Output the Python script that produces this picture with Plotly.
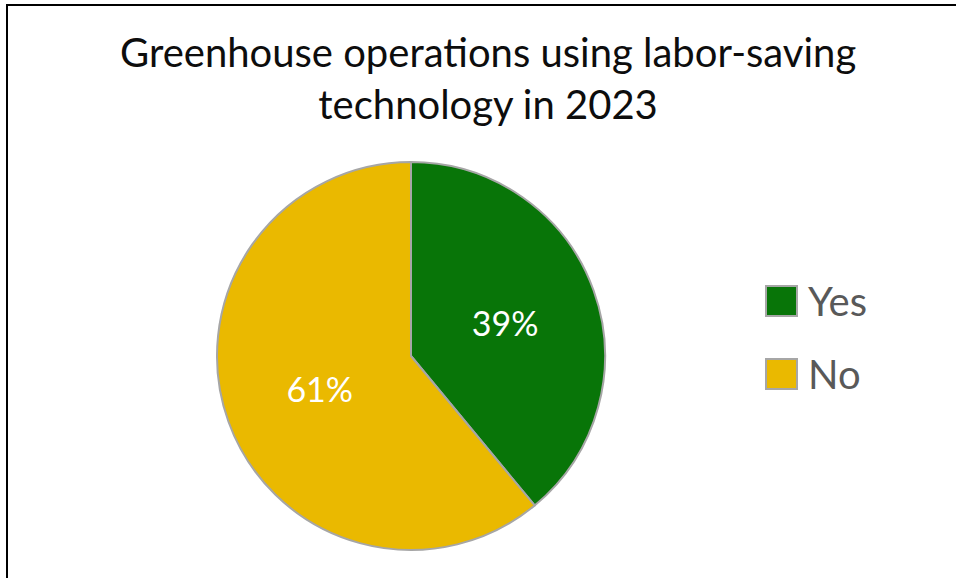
import plotly.graph_objects as go

# Survey shares of greenhouse operations
categories = ["Yes", "No"]
shares = [39, 61]
colors = ["#087508", "#eab900"]
title_text = "Greenhouse operations using labor-saving<br>technology in 2023"

W, H = 956, 578


def px_x(v):
    return v / W


def px_y(v):
    return 1 - v / H


fig = go.Figure()

fig.add_trace(go.Pie(
    labels=categories,
    values=shares,
    sort=False,
    direction="clockwise",
    rotation=0,
    marker=dict(colors=colors, line=dict(color="#a6a6a6", width=2)),
    textinfo="percent",
    texttemplate="%{percent:.0%}",
    textposition="inside",
    insidetextorientation="horizontal",
    textfont=dict(family="Lato", size=34, color="white"),
    showlegend=False,
    hoverinfo="label+percent",
    domain=dict(x=[px_x(411 - 194), px_x(411 + 194)],
                y=[px_y(550), px_y(162)]),
))

shapes = [
    # chart frame (top and left edges visible)
    dict(type="rect", xref="paper", yref="paper",
         x0=px_x(7), x1=1.05, y0=-0.05, y1=px_y(5),
         line=dict(color="black", width=2), fillcolor="rgba(0,0,0,0)"),
]
annotations = [
    dict(text=title_text, xref="paper", yref="paper",
         x=px_x(488), y=px_y(26), xanchor="center", yanchor="top",
         showarrow=False, align="center",
         font=dict(family="Lato", size=40, color="#0d0d0d")),
]

# legend entries drawn as swatches with labels
legend_rows = [301, 374]
for name, col, yc in zip(categories, colors, legend_rows):
    shapes.append(dict(type="rect", xref="paper", yref="paper",
                       x0=px_x(766), x1=px_x(797),
                       y0=px_y(yc + 15), y1=px_y(yc - 15),
                       fillcolor=col, line=dict(color="#a6a6a6", width=2)))
    annotations.append(dict(text=name, xref="paper", yref="paper",
                            x=px_x(806), y=px_y(yc), xanchor="left", yanchor="middle",
                            showarrow=False,
                            font=dict(family="Lato", size=40, color="#595959")))

fig.update_layout(
    width=W, height=H,
    margin=dict(l=0, r=0, t=0, b=0),
    paper_bgcolor="white",
    plot_bgcolor="white",
    shapes=shapes,
    annotations=annotations,
)

fig.write_html("out.html")
